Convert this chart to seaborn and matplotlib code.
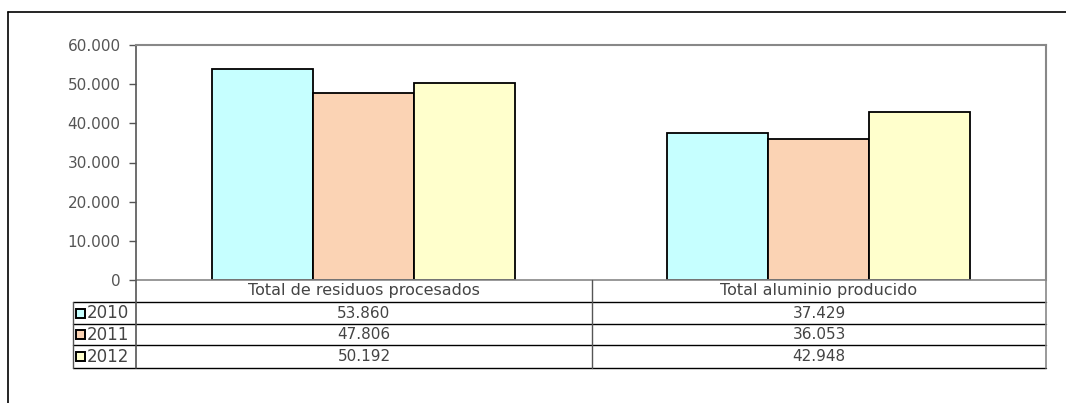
import matplotlib
matplotlib.use("Agg")
import matplotlib.pyplot as plt
import seaborn as sns
import pandas as pd
from matplotlib.patches import Rectangle
from matplotlib.lines import Line2D

categories = ["Total de residuos procesados", "Total aluminio producido"]
years = ["2010", "2011", "2012"]
values_2010 = [53860, 37429]
values_2011 = [47806, 36053]
values_2012 = [50192, 42948]
value_labels = {
    "2010": ["53.860", "37.429"],
    "2011": ["47.806", "36.053"],
    "2012": ["50.192", "42.948"],
}
yticks = [0, 10000, 20000, 30000, 40000, 50000, 60000]
ytick_labels = ["0", "10.000", "20.000", "30.000", "40.000", "50.000", "60.000"]
colors = ["#C6FFFF", "#FBD3B4", "#FFFFCC"]

rows = []
for y, vals in zip(years, [values_2010, values_2011, values_2012]):
    for c, v in zip(categories, vals):
        rows.append({"cat": c, "year": y, "value": v})
df = pd.DataFrame(rows)

sns.set_style("white")
plt.rcParams["font.family"] = ["DejaVu Sans"]

W, H = 1066, 403
fig = plt.figure(figsize=(W / 100, H / 100), dpi=100)

def fx(px):
    return px / W

def fy(py):
    return 1 - py / H

L, R, T, B = 136, 1046, 45, 280
ax = fig.add_axes([fx(L), fy(B), fx(R) - fx(L), fy(T) - fy(B)])
sns.barplot(data=df, x="cat", y="value", hue="year", order=categories,
            hue_order=years, palette=colors, saturation=1, width=0.666, gap=0,
            edgecolor="black", linewidth=1.3, ax=ax, legend=False)
ax.set_ylim(0, 60000)
ax.set_xlim(-0.5, 1.5)
ax.set_yticks(yticks)
ax.set_yticklabels(ytick_labels, fontsize=11, color="#555555")
ax.set_xticks([])
ax.set_xlabel("")
ax.set_ylabel("")
ax.tick_params(axis="y", which="both", left=True, length=5, width=1,
               color="#555555", pad=6)
for s in ["top", "right"]:
    ax.spines[s].set_color("#888888")
    ax.spines[s].set_linewidth(1.5)
ax.spines["left"].set_color("#555555")
ax.spines["left"].set_linewidth(1.2)
ax.spines["bottom"].set_color("#888888")
ax.spines["bottom"].set_linewidth(1.2)

# Outer partial frame
fig.add_artist(Line2D([fx(8), 1], [fy(12), fy(12)], color="black", lw=1.2))
fig.add_artist(Line2D([fx(8), fx(8)], [fy(12), 0], color="black", lw=1.2))

# Data table
row_y = [280, 302, 324, 345, 368]
mid = 592
TL = 73
for yy in row_y[1:]:
    fig.add_artist(Line2D([fx(TL), fx(R)], [fy(yy), fy(yy)], color="black", lw=1.0))
fig.add_artist(Line2D([fx(TL), fx(TL)], [fy(302), fy(368)], color="#555555", lw=1.0))
fig.add_artist(Line2D([fx(L), fx(L)], [fy(280), fy(368)], color="#555555", lw=1.2))
fig.add_artist(Line2D([fx(mid), fx(mid)], [fy(280), fy(368)], color="#555555", lw=1.0))
fig.add_artist(Line2D([fx(R), fx(R)], [fy(280), fy(368)], color="#888888", lw=1.2))

centers = [(L + mid) / 2, (mid + R) / 2]
for c, cx in zip(categories, centers):
    fig.text(fx(cx), fy((280 + 302) / 2), c, ha="center", va="center",
             fontsize=11.5, color="#444444")
for i, y in enumerate(years):
    yc = (row_y[i + 1] + row_y[i + 2]) / 2
    fig.add_artist(Rectangle((fx(76), fy(yc + 4.5)), fx(9), (9 / H),
                             facecolor=colors[i], edgecolor="black", lw=1.4))
    fig.text(fx(87), fy(yc), y, ha="left", va="center", fontsize=12, color="#444444")
    for j, cx in enumerate(centers):
        fig.text(fx(cx), fy(yc), value_labels[y][j], ha="center", va="center",
                 fontsize=11, color="#444444")

fig.savefig("out.png", dpi=100, facecolor="white")
